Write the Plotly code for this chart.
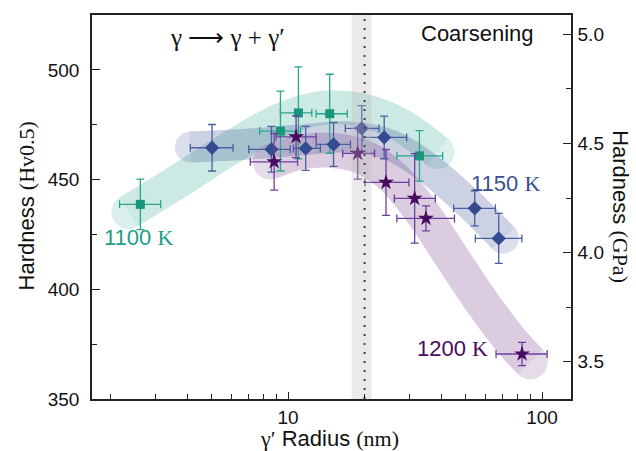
import math
import plotly.graph_objects as go

# ---- measured data: gamma-prime radius (nm) vs. Vickers hardness (HV0.5) ----
# 1100 K
r_1100 = [2.62, 9.33, 10.98, 14.58, 32.9]
hv_1100 = [438.7, 472.1, 480.4, 480.0, 460.8]
hv_err_1100 = [11.5, 18.2, 21.0, 18.0, 11.5]
r_lo_1100 = [2.17, 7.73, 9.33, 12.9, 26.8]
r_hi_1100 = [3.15, 11.2, 12.4, 17.1, 40.6]

# 1150 K
r_1150 = [5.02, 8.6, 11.73, 15.1, 19.5, 23.9, 54.3, 67.5]
hv_1150 = [464.5, 463.8, 464.2, 466.0, 473.3, 469.2, 436.9, 423.2]
hv_err_1150 = [10.6, 10.4, 10.0, 10.0, 10.4, 9.7, 8.0, 11.4]
r_lo_1150 = [4.12, 7.0, 10.5, 12.9, 16.8, 19.7, 44.9, 54.6]
r_hi_1150 = [6.07, 10.2, 13.4, 17.6, 22.8, 29.3, 65.5, 83.3]

# 1200 K
r_1200 = [8.81, 10.75, 18.8, 24.3, 31.5, 34.9, 83.4]
hv_1200 = [458.1, 469.5, 461.9, 448.7, 441.4, 432.3, 370.5]
hv_err_1200 = [12.9, 9.5, 11.7, 15.0, 20.4, 5.7, 5.3]
r_lo_1200 = [7.1, 8.97, 16.4, 20.1, 26.2, 26.8, 65.9]
r_hi_1200 = [10.9, 12.9, 21.9, 29.9, 38.0, 45.2, 104.7]

# guide-to-the-eye trend swaths (centre lines)
guide_r_1100 = [2.351, 3.767, 5.93, 9.33, 13.40, 19.26, 27.68, 38.71]
guide_hv_1100 = [435.2, 449.8, 464.4, 477.1, 482.6, 481.7, 474.8, 462.5]
guide_r_1150 = [4.125, 7.105, 11.18, 17.59, 25.28, 36.33, 52.21, 70.40]
guide_hv_1150 = [464.8, 466.2, 468.0, 469.4, 465.7, 454.3, 438.4, 423.3]
guide_r_1200 = [8.52, 11.18, 14.67, 19.26, 25.28, 33.19, 43.55, 57.18, 75.03, 89.93]
guide_hv_1200 = [458.0, 462.5, 463.4, 460.7, 452.05, 436.1, 415.6, 395.1, 376.9, 366.9]

# nucleation/growth -> coarsening transition radius and its uncertainty
r_transition = 20.0
r_transition_band = [17.8, 21.3]

x_range = [1.69, 130.0]
hv_range = [350, 525]
gpa_range = [3.329, 5.089]

SANS = "Liberation Sans, Arial, sans-serif"
SERIF = "Liberation Serif, Times New Roman, serif"

C_1100 = "#1f9e89"
C_1150 = "#3b4f93"
C_1200 = "#4a0c5c"


def serif(txt):
    return f"<span style=\"font-family:'Liberation Serif'\">{txt}</span>"


def minus(c, lo):
    return [ci - li for ci, li in zip(c, lo)]


def plus(c, hi):
    return [hi_i - ci for ci, hi_i in zip(c, hi)]


fig = go.Figure()


def add_guide(r, hv, color, width, alpha):
    n = len(r)
    fig.add_trace(go.Scatter(
        x=r, y=hv, mode="lines+markers",
        line=dict(color=color, width=width, shape="spline", smoothing=1.0),
        marker=dict(size=[width] + [0] * (n - 2) + [width], color=color,
                    line=dict(width=0)),
        opacity=alpha, hoverinfo="skip", showlegend=False,
    ))


add_guide(guide_r_1100, guide_hv_1100, "#2aa58e", 34, 0.23)
add_guide(guide_r_1150, guide_hv_1150, "#3b4f93", 31, 0.25)
add_guide(guide_r_1200, guide_hv_1200, "#5a1a6e", 35, 0.21)


def add_series(r, hv, hv_err, lo, hi, marker_color, bar_color, symbol, size):
    fig.add_trace(go.Scatter(
        x=r, y=hv, mode="markers",
        marker=dict(symbol=symbol, size=size, color=marker_color,
                    line=dict(width=0)),
        error_y=dict(type="data", array=hv_err, color=bar_color,
                     thickness=1.3, width=4),
        error_x=dict(type="data", array=plus(r, hi), arrayminus=minus(r, lo),
                     color=bar_color, thickness=1.3, width=4),
        showlegend=False,
    ))


add_series(r_1100, hv_1100, hv_err_1100, r_lo_1100, r_hi_1100,
           "#18977f", "#2aa58e", "square", 9)
add_series(r_1150, hv_1150, hv_err_1150, r_lo_1150, r_hi_1150,
           "#344a91", "#4a5ea2", "diamond", 11)
add_series(r_1200, hv_1200, hv_err_1200, r_lo_1200, r_hi_1200,
           "#480a5c", "#6b3fa0", "star", 12)

# transition band and line
b0, b1 = r_transition_band
fig.add_trace(go.Scatter(
    x=[b0, b1, b1, b0, b0],
    y=[hv_range[0], hv_range[0], hv_range[1], hv_range[1], hv_range[0]],
    mode="lines", fill="toself", fillcolor="rgba(185,185,185,0.30)",
    line=dict(width=0), hoverinfo="skip", showlegend=False,
))
fig.add_trace(go.Scatter(
    x=[r_transition, r_transition], y=hv_range, mode="lines",
    line=dict(color="#444444", width=2, dash="2px,7px"),
    hoverinfo="skip", showlegend=False,
))

axis_common = dict(
    showline=True, linecolor="#222222", linewidth=1.5,
    ticks="inside", tickcolor="#222222", tickwidth=1.3,
    tickfont=dict(family=SANS, size=19, color="#111111"),
    showgrid=False, zeroline=False,
)

fig.update_layout(
    width=636, height=451,
    margin=dict(l=92, r=65, t=15, b=52),
    paper_bgcolor="white", plot_bgcolor="white",
    showlegend=False,
    xaxis=dict(
        type="log", range=[math.log10(x_range[0]), math.log10(x_range[1])],
        tickvals=[10, 100], ticktext=["10", "100"], ticklen=7,
        minor=dict(tickvals=[2, 3, 4, 5, 6, 7, 8, 9,
                             20, 30, 40, 50, 60, 70, 80, 90],
                   ticklen=5, ticks="inside", tickcolor="#222222",
                   tickwidth=1.3),
        mirror=True, ticklabelstandoff=0,
        **axis_common,
    ),
    yaxis=dict(
        range=hv_range, tickvals=[350, 400, 450, 500], ticklen=8,
        minor=dict(tickvals=[375, 425, 475], ticklen=5, ticks="inside",
                   tickcolor="#222222", tickwidth=1.3),
        ticklabelstandoff=7,
        **axis_common,
    ),
    yaxis2=dict(
        range=gpa_range, overlaying="y", side="right", anchor="x",
        tickvals=[3.5, 4.0, 4.5, 5.0], ticktext=["3.5", "4.0", "4.5", "5.0"],
        ticklen=8,
        minor=dict(tickvals=[3.75, 4.25, 4.75], ticklen=5, ticks="inside",
                   tickcolor="#222222", tickwidth=1.3),
        ticklabelstandoff=1,
        **axis_common,
    ),
)

# invisible anchor so the secondary hardness axis is laid out
fig.add_trace(go.Scatter(x=[None], y=[None], yaxis="y2", showlegend=False,
                         hoverinfo="skip"))

ann_font = dict(family=SANS, size=22)


def label(x, y, text, color, **kw):
    fig.add_annotation(x=math.log10(x), y=y, xref="x", yref="y", text=text,
                       showarrow=False, xanchor="center", yanchor="middle",
                       font=dict(ann_font, color=color), **kw)


label(2.576, 423.8, "1100 " + serif("K"), C_1100)
label(71.6, 448.4, "1150 " + serif("K"), C_1150)
label(44.3, 373.2, "1200 " + serif("K"), C_1200)
label(55.5, 516.7, "Coarsening", "#111111")
fig.add_annotation(x=math.log10(5.75), y=514.9, xref="x", yref="y",
                   text="γ ⟶ γ + γ′", showarrow=False,
                   xanchor="center", yanchor="middle",
                   font=dict(family=SERIF, size=25, color="#111111"))

# axis titles
title_font = dict(family=SANS, size=22, color="#111111")
fig.add_annotation(x=-0.1378, y=0.504, xref="paper", yref="paper",
                   xanchor="center", yanchor="middle",
                   text="Hardness " + serif("(Hv0.5)"), textangle=-90,
                   showarrow=False, font=title_font)
fig.add_annotation(x=1.1033, y=0.501, xref="paper", yref="paper",
                   xanchor="center", yanchor="middle",
                   text="Hardness " + serif("(GPa)"), textangle=90,
                   showarrow=False, font=title_font)
fig.add_annotation(x=0.4948, y=-0.1016, xref="paper", yref="paper",
                   xanchor="center", yanchor="middle",
                   text=serif("γ′") + " Radius " + serif("(nm)"),
                   showarrow=False, font=title_font)

fig.write_html("out.html")
